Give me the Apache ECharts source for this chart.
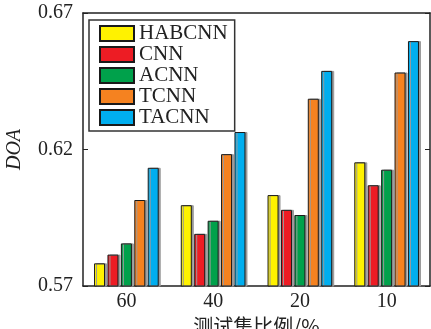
<!DOCTYPE html>
<html>
<head>
<meta charset="utf-8">
<script src="https://cdn.jsdelivr.net/npm/echarts@6/dist/echarts.min.js"></script>
<style>
  html, body { margin: 0; padding: 0; background: #fff; }
  #chart { width: 431px; height: 329px; }
</style>
</head>
<body>
<div id="chart"></div>
<script>
// data
const categories = ['60', '40', '20', '10'];
const seriesNames = ['HABCNN', 'CNN', 'ACNN', 'TCNN', 'TACNN'];
const habcnn = [0.5783, 0.5996, 0.6033, 0.6153];
const cnn = [0.5815, 0.5891, 0.5979, 0.6069];
const acnn = [0.5856, 0.5939, 0.5960, 0.6126];
const tcnn = [0.6015, 0.6183, 0.6386, 0.6482];
const tacnn = [0.6133, 0.6264, 0.6488, 0.6597];
const yTicks = [0.57, 0.62, 0.67];

const colors = ['#fff200', '#ed1c24', '#00a14b', '#f58220', '#00aeef'];
const serif = '"Liberation Serif", "Times New Roman", serif';
const textColor = '#222';

const chart = echarts.init(document.getElementById('chart'));

const values = [habcnn, cnn, acnn, tcnn, tacnn];
let series = [];
for (let i = 0; i < seriesNames.length; i++) {
    series.push({
        name: seriesNames[i],
        type: 'bar',
        data: values[i],
        barWidth: 11,
        barGap: '22%',
        itemStyle: {
            color: colors[i],
            borderColor: '#1a1a1a',
            borderWidth: 1,
            shadowColor: '#9a9a9a',
            shadowOffsetX: 2,
            shadowBlur: 0
        }
    });
}

const option = {
    backgroundColor: '#fff',
    animation: false,
    grid: { left: 83, top: 13, right: 1, bottom: 43, outerBoundsMode: 'none', containLabel: false },
    legend: {
        orient: 'vertical',
        left: 89,
        top: 20,
        padding: [3, 7, 3, 10],
        icon: 'rect',
        itemWidth: 34,
        itemHeight: 15,
        itemGap: 0,
        backgroundColor: '#fff',
        borderColor: '#333',
        borderWidth: 1.5,
        textStyle: { fontFamily: serif, fontSize: 21, lineHeight: 19, height: 19, color: textColor },
        data: seriesNames
    },
    xAxis: [{
        type: 'category',
        data: categories,
        axisLine: { lineStyle: { color: '#222', width: 1.5 } },
        axisTick: { show: false },
        axisLabel: { fontFamily: serif, fontSize: 20, color: textColor, margin: 6 },
        name: '测试集比例/%',
        nameLocation: 'middle',
        nameGap: 30,
        nameTextStyle: { fontFamily: '"Noto Sans CJK SC", sans-serif', fontSize: 20, color: textColor }
    }, {
        type: 'category',
        position: 'top',
        data: categories,
        axisLine: { lineStyle: { color: '#222', width: 1.5 } },
        axisTick: { show: false },
        axisLabel: { show: false }
    }],
    yAxis: [{
        type: 'value',
        min: yTicks[0],
        max: yTicks[yTicks.length - 1],
        interval: 0.05,
        axisLine: { show: true, lineStyle: { color: '#222', width: 1.5 } },
        axisTick: { show: true, inside: true, length: 5, lineStyle: { color: '#222' } },
        splitLine: { show: false },
        axisLabel: { fontFamily: serif, fontSize: 20, color: textColor, margin: 10,
            formatter: v => v.toFixed(2) },
        name: 'DOA',
        nameLocation: 'middle',
        nameGap: 58,
        nameTextStyle: { fontFamily: serif, fontSize: 20, fontStyle: 'italic', color: textColor }
    }, {
        type: 'value',
        position: 'right',
        min: yTicks[0],
        max: yTicks[yTicks.length - 1],
        interval: 0.05,
        axisLine: { show: true, lineStyle: { color: '#222', width: 1.5 } },
        axisTick: { show: true, inside: true, length: 5, lineStyle: { color: '#222' } },
        splitLine: { show: false },
        axisLabel: { show: false }
    }],
    series: series
};

chart.setOption(option);
</script>
</body>
</html>
